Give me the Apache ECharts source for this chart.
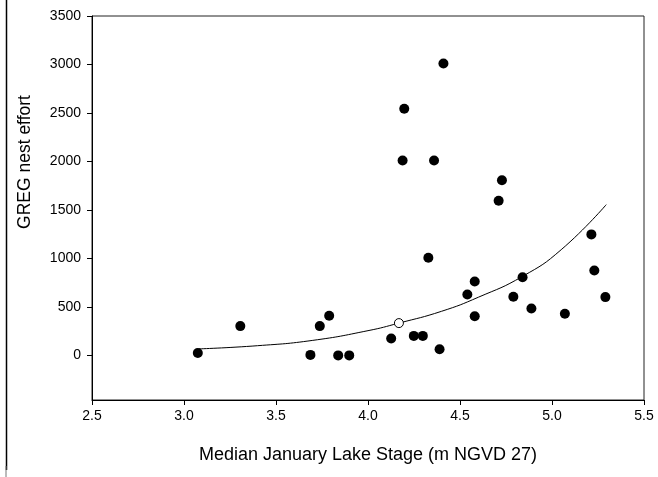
<!DOCTYPE html>
<html>
<head>
<meta charset="utf-8">
<script src="https://cdn.jsdelivr.net/npm/echarts@6/dist/echarts.min.js"></script>
<style>
html,body{margin:0;padding:0;background:#fff;}
#chart{width:658px;height:477px;}
</style>
</head>
<body>
<div id="chart"></div>
<script>
// Observed points: lake stage (m) and GREG nest effort
const stageX = [3.075, 3.306, 3.687, 3.738, 3.789, 3.838, 3.898, 4.126, 4.188, 4.197, 4.249, 4.298, 4.328, 4.359, 4.389, 4.41, 4.54, 4.58, 4.58, 4.71, 4.728, 4.79, 4.84, 4.888, 5.07, 5.214, 5.23, 5.29];
const nestY  = [25, 302, 5, 302, 408, 0, 0, 174, 2009, 2543, 201, 201, 1007, 2009, 64, 3010, 628, 762, 404, 1594, 1806, 604, 806, 483, 429, 1248, 876, 601];
// Open-circle point
const openX = [4.168];
const openY = [333];
// Fitted curve
const curveX = [3.08, 3.4, 3.7, 4.0, 4.168, 4.4, 4.6, 4.84, 5.05, 5.295];
const curveY = [67, 100, 155, 255, 333, 455, 600, 815, 1090, 1555];
// Axis ticks
const yTicks = [0, 500, 1000, 1500, 2000, 2500, 3000, 3500];

const zip = (a, b) => a.map((v, i) => [v, b[i]]);

const chart = echarts.init(document.getElementById('chart'), null, {renderer: 'canvas'});
const font = 'Arial, "Liberation Sans", sans-serif';
chart.setOption({
  animation: false,
  backgroundColor: '#fff',
  grid: {left: 92, right: 14, top: 16, bottom: 77, show: true, borderColor: '#222', borderWidth: 1, backgroundColor: 'transparent'},
  xAxis: {
    type: 'value', min: 2.5, max: 5.5, interval: 0.5,
    axisLine: {onZero: false, lineStyle: {color: '#000', width: 1}},
    axisTick: {show: true, inside: false, length: 5, lineStyle: {color: '#000'}},
    axisLabel: {color: '#000', fontFamily: font, fontSize: 14, margin: 9, formatter: v => v.toFixed(1)},
    splitLine: {show: false}
  },
  yAxis: {
    type: 'value', min: -460, max: 3500,
    axisLine: {show: true, onZero: false, lineStyle: {color: '#000', width: 1}},
    axisTick: {show: true, inside: false, length: 5, customValues: yTicks, lineStyle: {color: '#000'}},
    axisLabel: {color: '#000', fontFamily: font, fontSize: 14, margin: 11, customValues: yTicks, formatter: v => String(v)},
    splitLine: {show: false}
  },
  graphic: [
    {type: 'text', x: 25, y: 162, rotation: Math.PI / 2,
     style: {text: 'GREG nest effort', fill: '#000', font: '17.5px ' + font, textAlign: 'center', textVerticalAlign: 'middle'}},
    {type: 'text', x: 368, y: 455,
     style: {text: 'Median January Lake Stage (m NGVD 27)', fill: '#000', font: '18px ' + font, textAlign: 'center', textVerticalAlign: 'middle'}},
    {type: 'line', shape: {x1: 6.5, y1: 0, x2: 6.5, y2: 470}, style: {stroke: '#000', lineWidth: 1.5}},
    {type: 'line', shape: {x1: 6, y1: 466, x2: 6, y2: 477}, style: {stroke: '#777', lineWidth: 1}}
  ],
  series: [
    {
      type: 'line', data: zip(curveX, curveY), smooth: 0.5, showSymbol: false,
      lineStyle: {color: '#000', width: 1}, z: 2, silent: true
    },
    {
      type: 'scatter', data: zip(stageX, nestY), symbol: 'circle', symbolSize: 10,
      itemStyle: {color: '#000', opacity: 1}, z: 3
    },
    {
      type: 'scatter', data: zip(openX, openY), symbol: 'circle', symbolSize: 9,
      itemStyle: {color: '#fff', borderColor: '#000', borderWidth: 1, opacity: 1}, z: 4
    }
  ]
});
</script>
</body>
</html>
